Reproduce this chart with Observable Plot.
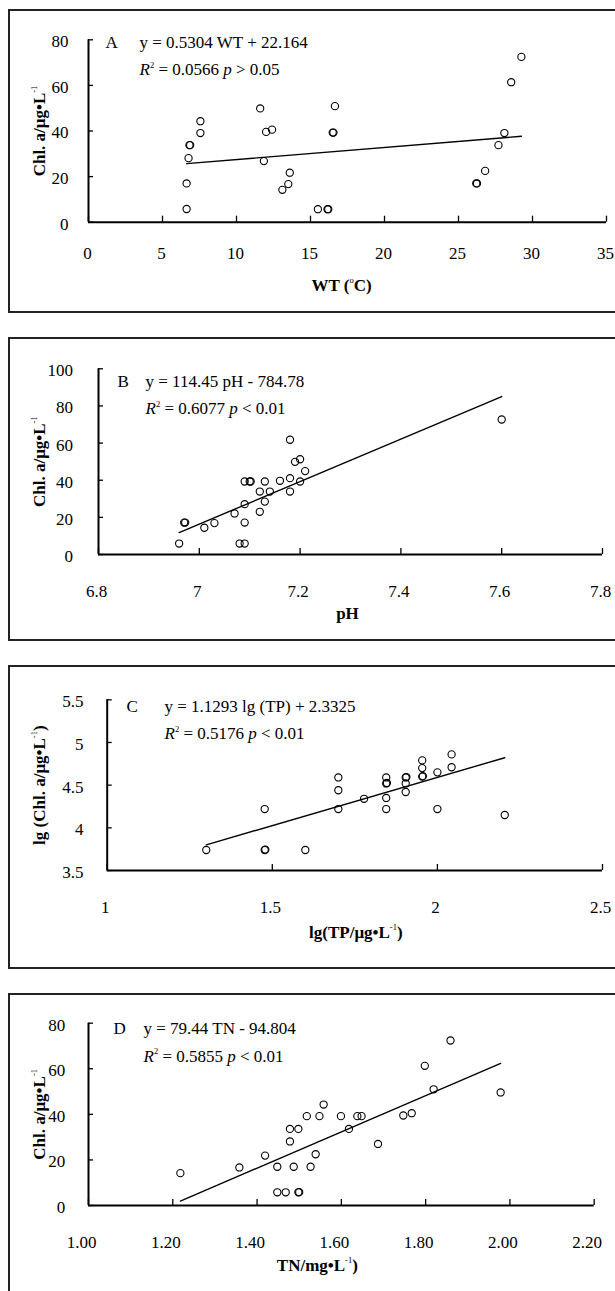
<!DOCTYPE html>
<html>
<head>
<meta charset="utf-8">
<script src="https://cdn.jsdelivr.net/npm/d3@7"></script>
<script src="https://cdn.jsdelivr.net/npm/@observablehq/plot@0.6"></script>
<style>
html, body { margin: 0; padding: 0; background: #fff; width: 615px; height: 1291px; overflow: hidden; }
#root { position: relative; width: 615px; height: 1291px; overflow: hidden; }
.panel { position: absolute; left: 0; }
.panel svg { background: transparent !important; }
.frame { position: absolute; left: 8px; width: 640px; height: 304px; border: 2px solid #222; border-right: none; box-sizing: border-box; pointer-events: none; }
</style>
</head>
<body>
<div id="root"></div>
<script>
// ---------- DATA ----------
// Panel A: water temperature vs Chl. a
const aWT  = [6.63, 6.63, 6.76, 6.82, 6.87, 7.56, 7.56, 11.6, 12.0, 11.85, 12.4, 13.1, 13.5, 13.6, 15.5, 16.15, 16.2, 16.5, 16.55, 16.65, 26.2, 26.25, 26.8, 27.7, 28.1, 28.56, 29.25];
const aChl = [5.8, 17.0, 28.1, 33.8, 33.8, 44.3, 39.1, 49.9, 39.6, 26.8, 40.6, 14.2, 16.7, 21.7, 5.7, 5.7, 5.7, 39.3, 39.3, 50.9, 17.0, 17.0, 22.5, 33.8, 39.1, 61.4, 72.5];
// Panel B: pH vs Chl. a
const bPH  = [6.96, 6.97, 6.972, 7.01, 7.03, 7.07, 7.08, 7.09, 7.09, 7.09, 7.09, 7.10, 7.102, 7.12, 7.12, 7.13, 7.13, 7.14, 7.16, 7.18, 7.18, 7.18, 7.19, 7.20, 7.20, 7.21, 7.60];
const bChl = [5.9, 17.2, 17.2, 14.4, 16.9, 22.1, 5.9, 5.9, 17.2, 27.1, 39.3, 39.3, 39.3, 23.0, 33.9, 28.5, 39.3, 33.9, 39.7, 41.1, 33.9, 61.8, 49.9, 51.3, 39.3, 44.9, 72.7];
// Panel C: lg(TP) vs lg(Chl. a)
const cTP  = [1.30, 1.477, 1.479, 1.477, 1.60, 1.70, 1.70, 1.70, 1.778, 1.845, 1.845, 1.847, 1.845, 1.845, 1.904, 1.906, 1.904, 1.904, 1.954, 1.954, 1.954, 1.956, 2.0, 2.0, 2.043, 2.043, 2.204];
const cChl = [3.74, 3.74, 3.745, 4.22, 3.74, 4.59, 4.44, 4.22, 4.34, 4.59, 4.52, 4.525, 4.35, 4.22, 4.59, 4.595, 4.52, 4.42, 4.79, 4.70, 4.60, 4.605, 4.65, 4.22, 4.86, 4.71, 4.15];
// Panel D: TN vs Chl. a
const dTN  = [1.218, 1.358, 1.419, 1.448, 1.448, 1.468, 1.478, 1.478, 1.487, 1.498, 1.500, 1.498, 1.518, 1.527, 1.539, 1.548, 1.558, 1.599, 1.618, 1.638, 1.648, 1.687, 1.747, 1.767, 1.798, 1.819, 1.859, 1.978];
const dChl = [14.2, 16.7, 21.9, 17.0, 5.8, 5.8, 33.6, 28.1, 17.0, 5.8, 5.85, 33.6, 39.2, 17.0, 22.5, 39.2, 44.3, 39.2, 33.6, 39.2, 39.2, 27.0, 39.5, 40.5, 61.3, 51.0, 72.4, 49.6];

const panelLetters = ["A", "B", "C", "D"];
const eqTexts = ["y = 0.5304 WT + 22.164", "y = 114.45 pH - 784.78", "y = 1.1293 lg (TP) + 2.3325", "y = 79.44 TN - 94.804"];
const r2Values = ["0.0566", "0.6077", "0.5176", "0.5855"];
const pTexts = ["> 0.05", "< 0.01", "< 0.01", "< 0.01"];
const fitSlopes = [0.5304, 114.45, 1.1293, 79.44];
const fitIntercepts = [22.164, -784.78, 2.3325, -94.804];
const xTitles = ["WT (°C)", "pH", "lg(TP/μg•L⁻¹)", "TN/mg•L⁻¹)"];
const yTitles = ["Chl. a/μg•L⁻¹", "Chl. a/μg•L⁻¹", "lg (Chl. a/μg•L⁻¹)", "Chl. a/μg•L⁻¹"];

const xTicksA = [0, 5, 10, 15, 20, 25, 30, 35];
const xTicksB = [6.8, 7.0, 7.2, 7.4, 7.6, 7.8];
const xTicksC = [1, 1.5, 2, 2.5];
const xTicksD = [1.0, 1.2, 1.4, 1.6, 1.8, 2.0, 2.2];
const yTicksA = [0, 20, 40, 60, 80];
const yTicksB = [0, 20, 40, 60, 80, 100];
const yTicksC = [3.5, 4, 4.5, 5, 5.5];
const yTicksD = [0, 20, 40, 60, 80];

// ---------- LAYOUT / STYLE ----------
const FONT = "'Liberation Serif', 'Times New Roman', Times, serif";
const FS = 17;
const W = 615, H = 304;
const layout = [
  {top: 9,   mL: 88,    mR: 9,    mT: 30.3, mB: 91.3, yPad: 20,   xPad: 25,   xDx: -1, letterDx: 17,   eqDx: 51,   l1: 2.4,  l2: 30, xtDy: 63,   xtDx: -6,  fmt: d => String(d)},
  {top: 337, mL: 98,    mR: 13,   mT: 31.3, mB: 87,   yPad: 25.5, xPad: 30.5, xDx: -2, letterDx: 19,   eqDx: 47,   l1: 12.7, l2: 40, xtDy: 59.3, xtDx: -3,  fmt: d => String(d)},
  {top: 665, mL: 106.7, mR: 13,   mT: 34.3, mB: 99,   yPad: 23.7, xPad: 30.5, xDx: -2, letterDx: 19.3, eqDx: 57.3, l1: 6.7,  l2: 34, xtDy: 61.7, xtDx: 1,   fmt: d => String(d)},
  {top: 993, mL: 88,    mR: 21.3, mT: 29.7, mB: 92,   yPad: 23.3, xPad: 30.5, xDx: -7, letterDx: 25,   eqDx: 55,   l1: 5.6,  l2: 33, xtDy: 60,   xtDx: -24, fmt: d => d.toFixed(2)}
];

const series = [
  {x: aWT, y: aChl, xDomain: [0, 35],    yDomain: [0, 80],    xTicks: xTicksA, yTicks: yTicksA},
  {x: bPH, y: bChl, xDomain: [6.8, 7.8], yDomain: [0, 100],   xTicks: xTicksB, yTicks: yTicksB},
  {x: cTP, y: cChl, xDomain: [1, 2.5],   yDomain: [3.5, 5.5], xTicks: xTicksC, yTicks: yTicksC},
  {x: dTN, y: dChl, xDomain: [1, 2.2],   yDomain: [0, 80],    xTicks: xTicksD, yTicks: yTicksD}
];

// Convert unicode superscripts and italic R / p into tspans
const SUP = {"⁻": "-", "¹": "1", "²": "2", "°": "o"};
function richify(svg) {
  const NS = "http://www.w3.org/2000/svg";
  svg.querySelectorAll("text").forEach(t => {
    if (t.querySelector("tspan")) return;
    const s = t.textContent;
    if (!/[⁻¹²°]/.test(s) && !/ p /.test(s)) return;
    const segs = [];
    for (let i = 0; i < s.length; i++) {
      const c = s[i];
      let cls = "n", ch = c;
      if (SUP[c] !== undefined) { cls = "s"; ch = SUP[c]; }
      else if ((c === "R" && i === 0) || (c === "p" && s[i - 1] === " " && s[i + 1] === " ")) cls = "i";
      if (segs.length && segs[segs.length - 1].cls === cls) segs[segs.length - 1].txt += ch;
      else segs.push({cls, txt: ch});
    }
    t.textContent = "";
    let raised = false;
    const rise = FS * 0.45;
    segs.forEach(sg => {
      const ts = document.createElementNS(NS, "tspan");
      ts.textContent = sg.txt;
      if (sg.cls === "s") {
        ts.setAttribute("font-size", (FS * 0.5).toFixed(1));
        ts.setAttribute("font-weight", "normal");
        ts.setAttribute("dy", (-rise).toFixed(1));
        raised = true;
      } else {
        if (raised) { ts.setAttribute("dy", rise.toFixed(1)); raised = false; }
        if (sg.cls === "i") ts.setAttribute("font-style", "italic");
      }
      t.appendChild(ts);
    });
  });
}

const root = document.getElementById("root");

series.forEach((s, k) => {
  const L = layout[k];
  const plotW = W - L.mL - L.mR;
  const plotH = H - L.mT - L.mB;
  const pts = s.x.map((v, i) => ({x: v, y: s.y[i]}));
  const x0 = d3.min(s.x), x1 = d3.max(s.x);
  const fit = [x0, x1].map(v => ({x: v, y: fitSlopes[k] * v + fitIntercepts[k]}));

  const svg = Plot.plot({
    width: W, height: H,
    marginLeft: L.mL, marginRight: L.mR, marginTop: L.mT, marginBottom: L.mB,
    style: {fontFamily: FONT, fontSize: FS + "px", color: "#000", background: "transparent", overflow: "visible"},
    x: {domain: s.xDomain, label: null},
    y: {domain: s.yDomain, label: null},
    marks: [
      Plot.axisY({ticks: s.yTicks, tickSize: 0, tickPadding: L.yPad, tickFormat: d => String(d), fontSize: FS, fill: "#000", dy: 2, label: null}),
      Plot.axisX({ticks: s.xTicks, tickSize: 0, tickPadding: L.xPad, tickFormat: L.fmt, fontSize: FS, fill: "#000", dx: L.xDx, label: null}),
      Plot.tickX(s.xTicks, {x: d => d, insetTop: plotH - 6, stroke: "#000", strokeWidth: 1.3}),
      Plot.tickY(s.yTicks, {y: d => d, insetRight: plotW - 5, stroke: "#000", strokeWidth: 1.3}),
      Plot.ruleY([s.yDomain[0]], {stroke: "#000", strokeWidth: 2}),
      Plot.ruleX([s.xDomain[0]], {stroke: "#000", strokeWidth: 2}),
      Plot.line(fit, {x: "x", y: "y", stroke: "#000", strokeWidth: 1.4}),
      Plot.dot(pts, {x: "x", y: "y", r: 3.6, stroke: "#000", strokeWidth: 1.1, fill: "none"}),
      Plot.text([panelLetters[k]], {text: d => d, frameAnchor: "top-left", dx: L.letterDx, dy: L.l1, textAnchor: "start", lineAnchor: "middle", fontSize: FS, fill: "#000"}),
      Plot.text([eqTexts[k]], {text: d => d, frameAnchor: "top-left", dx: L.eqDx, dy: L.l1, textAnchor: "start", lineAnchor: "middle", fontSize: FS, fill: "#000"}),
      Plot.text([`R² = ${r2Values[k]} p ${pTexts[k]}`], {text: d => d, frameAnchor: "top-left", dx: L.eqDx, dy: L.l2, textAnchor: "start", lineAnchor: "middle", fontSize: FS, fill: "#000"}),
      Plot.text([xTitles[k]], {text: d => d, frameAnchor: "bottom", dx: L.xtDx, dy: L.xtDy, textAnchor: "middle", lineAnchor: "middle", fontSize: FS, fontWeight: "bold", fill: "#000"}),
      Plot.text([yTitles[k]], {text: d => d, frameAnchor: "left", rotate: -90, dx: 39 - L.mL, textAnchor: "middle", lineAnchor: "middle", fontSize: FS, fontWeight: "bold", fill: "#000"})
    ]
  });
  richify(svg);
  const wrap = document.createElement("div");
  wrap.className = "panel";
  wrap.style.top = L.top + "px";
  wrap.appendChild(svg);
  root.appendChild(wrap);

  const frame = document.createElement("div");
  frame.className = "frame";
  frame.style.top = L.top + "px";
  root.appendChild(frame);
});
</script>
</body>
</html>
